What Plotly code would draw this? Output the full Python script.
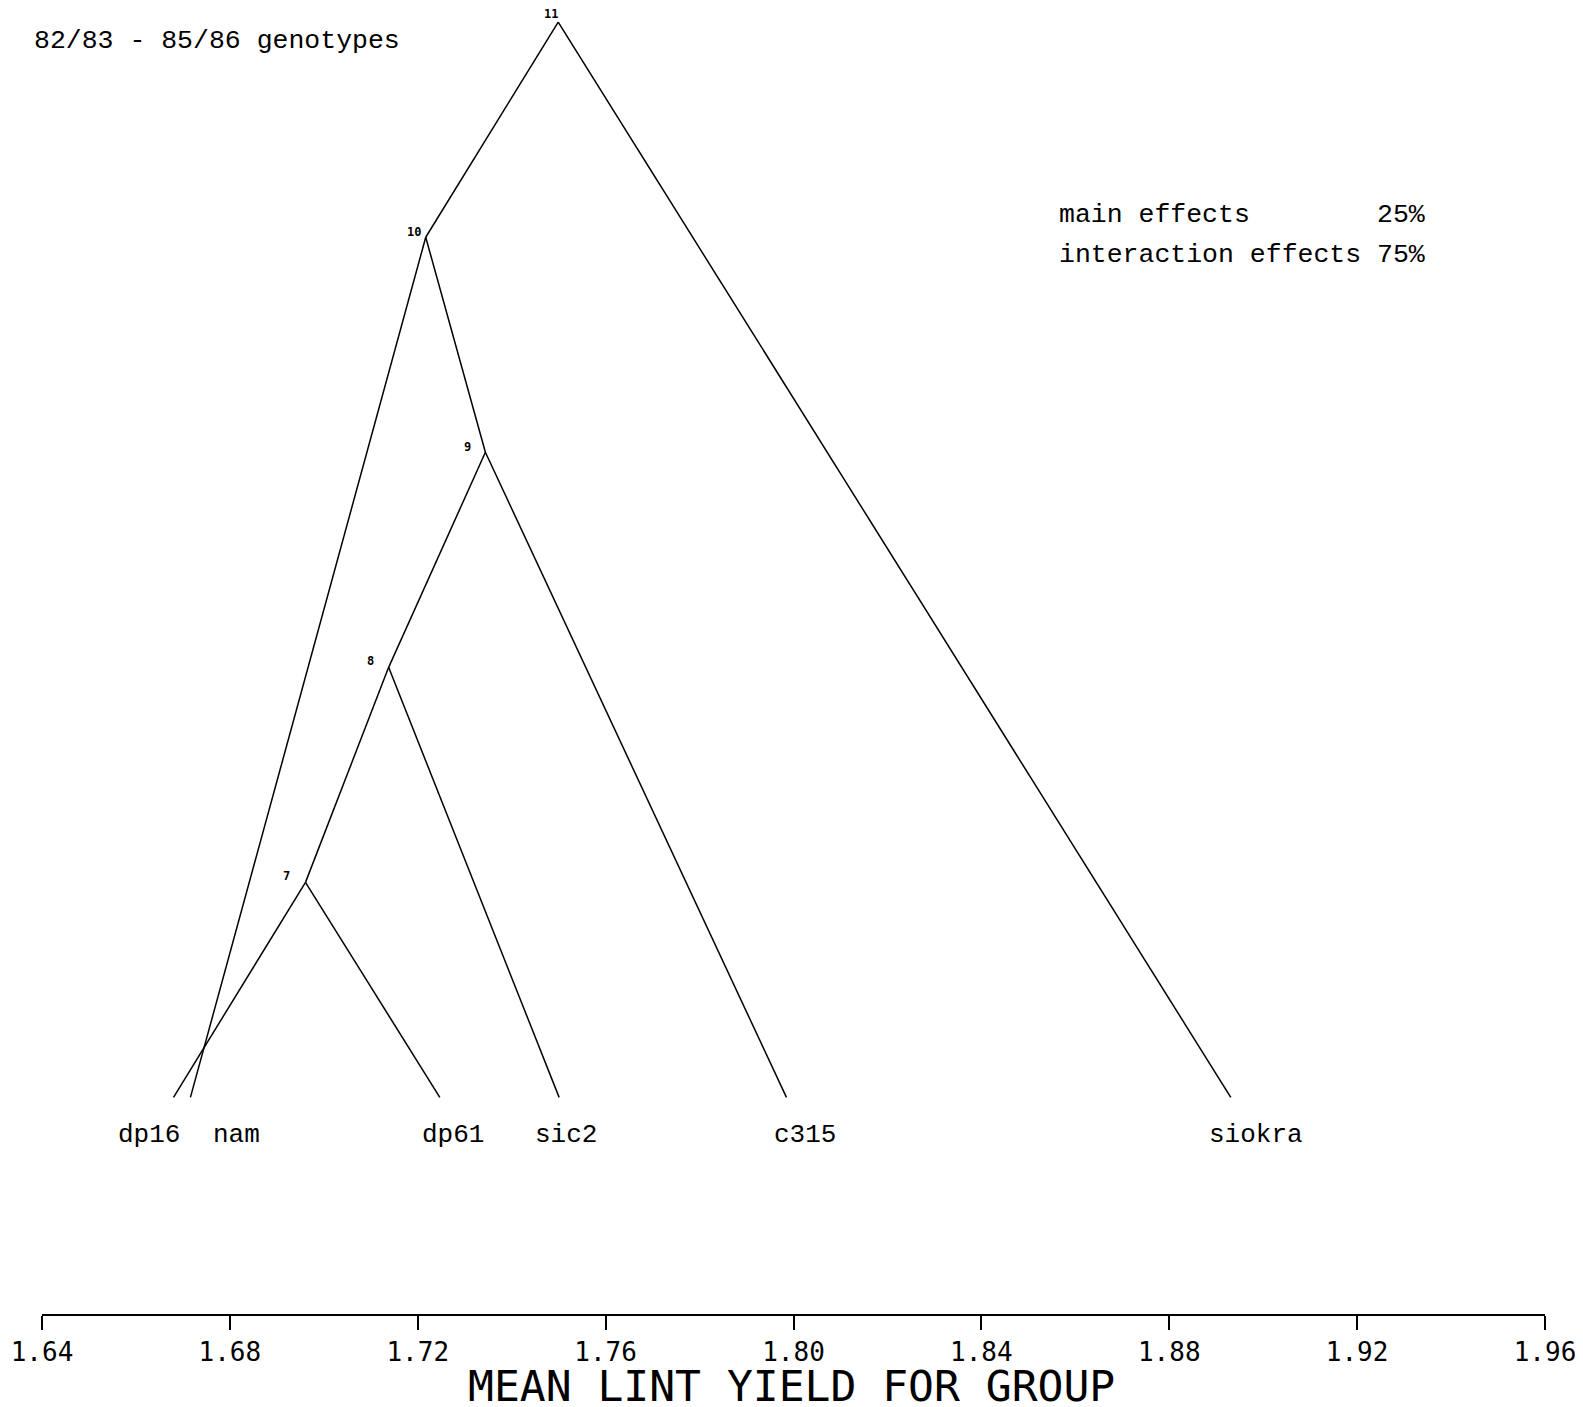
import plotly.graph_objects as go

# ---------------- data ----------------
leaf_ids = [1, 2, 3, 4, 5, 6]
leaf_names = ["dp16", "nam", "dp61", "sic2", "c315", "siokra"]
leaf_yield = [1.668, 1.6716, 1.7247, 1.7501, 1.7985, 1.8931]

node_ids = [7, 8, 9, 10, 11]
node_yield = [1.6961, 1.7138, 1.7344, 1.7217, 1.7499]
node_level = [1, 2, 3, 4, 5]
node_left = [1, 7, 8, 2, 10]
node_right = [3, 4, 5, 9, 6]

tick_vals = [1.64, 1.68, 1.72, 1.76, 1.80, 1.84, 1.88, 1.92, 1.96]
tick_text = ["1.64", "1.68", "1.72", "1.76", "1.80", "1.84", "1.88", "1.92", "1.96"]

title_text = "82/83 - 85/86 genotypes"
axis_title = "MEAN LINT YIELD FOR GROUP"
effects_names = ["main effects", "interaction effects"]
effects_pct = ["25%", "75%"]

# ---------------- layout constants ----------------
# the page body has an 8px margin on the left/top
OFF = 8
W, H = 1583 - OFF, 1407 - OFF
ML, MR, MT, MB = 34, 38, 12, 93
PW, PH = W - ML - MR, H - MT - MB


def px(xp):
    # page pixel -> paper x
    return (xp - OFF - ML) / PW


def py(yp):
    # page pixel -> paper y
    return (H - MB - (yp - OFF)) / PH


label_xshift = [-25, 46, 13, 7, 19, 25]
node_label_xshift = [-19, -18, -18, -12, -7]
node_label_yshift = [6, 6, 5, 5, 8]

# ---------------- build edges ----------------
pos = {}
for i, v in zip(leaf_ids, leaf_yield):
    pos[i] = (v, 0)
for i, v, lv in zip(node_ids, node_yield, node_level):
    pos[i] = (v, lv)

xs, ys = [], []
for nid, l, r in zip(node_ids, node_left, node_right):
    for c in (l, r):
        xs += [pos[nid][0], pos[c][0], None]
        ys += [pos[nid][1], pos[c][1], None]

fig = go.Figure()
fig.add_trace(go.Scatter(x=xs, y=ys, mode="lines",
                         line=dict(color="black", width=1.5),
                         hoverinfo="skip", showlegend=False, cliponaxis=False))

ann = []
mono = "Liberation Mono"
plot_font = "DejaVu Sans Mono"
for name, v, xs_ in zip(leaf_names, leaf_yield, label_xshift):
    ann.append(dict(x=v, y=0, xref="x", yref="y", text=name, showarrow=False,
                    xanchor="center", yanchor="middle", xshift=xs_, yshift=-38,
                    font=dict(family=mono, size=26, color="black")))

for nid, v, lv, xsh, ysh in zip(node_ids, node_yield, node_level,
                                node_label_xshift, node_label_yshift):
    ann.append(dict(x=v, y=lv, xref="x", yref="y", text=str(nid), showarrow=False,
                    xanchor="center", yanchor="middle", xshift=xsh, yshift=ysh,
                    borderpad=0,
                    font=dict(family=plot_font, size=12, color="black", weight="bold")))

ann.append(dict(x=px(32), y=py(41), xref="paper", yref="paper", text=title_text,
                showarrow=False, xanchor="left", yanchor="middle",
                font=dict(family=mono, size=26.5, color="black")))

for k, (nm, pc) in enumerate(zip(effects_names, effects_pct)):
    yy = py(215 + 40 * k)
    ann.append(dict(x=px(1057), y=yy, xref="paper", yref="paper", text=nm,
                    showarrow=False, xanchor="left", yanchor="middle",
                    font=dict(family=mono, size=26.5, color="black")))
    ann.append(dict(x=px(1427), y=yy, xref="paper", yref="paper", text=pc,
                    showarrow=False, xanchor="right", yanchor="middle",
                    font=dict(family=mono, size=26.5, color="black")))

ann.append(dict(x=px(791), y=py(1386), xref="paper", yref="paper", text=axis_title,
                showarrow=False, xanchor="center", yanchor="middle", borderpad=0,
                font=dict(family=plot_font, size=43, color="black")))

# vertical scale: leaves (level 0) at page y 1097.4, level 5 at page y 22.2
lvl_px = (1097.4 - 22.2) / 5.0
top_page = OFF + MT
bot_page = OFF + H - MB
y_top = 5 + (22.2 - top_page) / lvl_px
y_bot = -(bot_page - 1097.4) / lvl_px

fig.update_layout(
    width=W, height=H,
    margin=dict(l=ML, r=MR, t=MT, b=MB, pad=0, autoexpand=False),
    paper_bgcolor="white", plot_bgcolor="white",
    annotations=ann,
    xaxis=dict(range=[1.64, 1.96], tickvals=tick_vals, ticktext=tick_text,
               automargin=False, ticklabeloverflow="allow",
               showline=True, linecolor="black", linewidth=1.5,
               ticks="outside", ticklen=14, tickwidth=1.5, tickcolor="black",
               showgrid=False, zeroline=False,
               tickfont=dict(family=plot_font, size=26, color="black")),
    yaxis=dict(range=[y_bot, y_top], visible=False, showgrid=False,
               zeroline=False, automargin=False),
)

fig.write_html("out.html")
